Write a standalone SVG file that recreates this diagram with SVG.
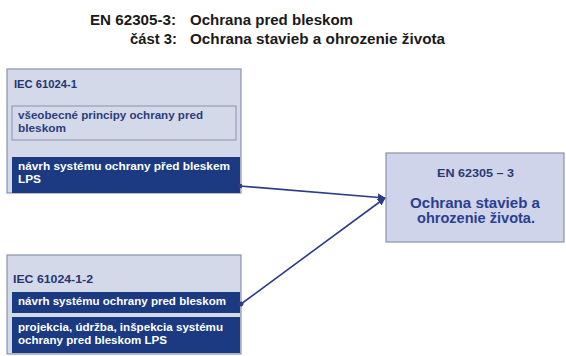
<svg xmlns="http://www.w3.org/2000/svg" width="566" height="356" viewBox="0 0 566 356">
<style>
text{font-family:"Liberation Sans",Arial,sans-serif;font-weight:bold}
.title{font-size:15px;fill:#1a1a1a}
.outer{fill:#d4d9ea;stroke:#8a92aa;stroke-width:1.2}
.inner{fill:#d4d9ea;stroke:#8a92aa;stroke-width:1}
.dark{fill:#1b3a82}
.hdr{font-size:10.5px;fill:#26346e}
.lt{font-size:11px;fill:#2c3c7c}
.wt{font-size:11px;fill:#ffffff}
.rb{fill:#cfd4ea;stroke:#8a92aa;stroke-width:1.2}
.rt1{font-size:11px;fill:#2a3878}
.rt2{font-size:14px;fill:#2c3f90}
.conn{stroke:#2e3c88;stroke-width:1.6;fill:none;marker-end:url(#arr);marker-start:url(#dot)}
</style>
<defs>
<marker id="arr" viewBox="0 0 10 10" refX="9" refY="5" markerWidth="5" markerHeight="5" orient="auto" markerUnits="strokeWidth">
<path d="M0,0 L10,5 L0,10 z" fill="#2e3c88"/>
</marker>
<marker id="dot" viewBox="0 0 10 10" refX="5" refY="5" markerWidth="3" markerHeight="3" orient="auto" markerUnits="strokeWidth">
<circle cx="5" cy="5" r="5" fill="#2e3c88"/>
</marker>
</defs>
<rect width="566" height="356" fill="#ffffff"/>
<g id="title">
<text class="title" x="90" y="25" textLength="86" lengthAdjust="spacingAndGlyphs">EN 62305-3:</text>
<text class="title" x="190" y="25" textLength="163" lengthAdjust="spacingAndGlyphs">Ochrana pred bleskom</text>
<text class="title" x="130" y="44" textLength="47" lengthAdjust="spacingAndGlyphs">část 3:</text>
<text class="title" x="190" y="44" textLength="255" lengthAdjust="spacingAndGlyphs">Ochrana stavieb a ohrozenie života</text>
</g>
<g id="iec61024-1">
<rect class="outer" x="7" y="69" width="234" height="124"/>
<text class="hdr" x="14" y="88" textLength="63" lengthAdjust="spacingAndGlyphs">IEC 61024-1</text>
<rect class="inner" x="12" y="106" width="224" height="34"/>
<text class="lt" x="18" y="119" textLength="185" lengthAdjust="spacingAndGlyphs">všeobecné principy ochrany pred</text>
<text class="lt" x="18" y="132" textLength="48" lengthAdjust="spacingAndGlyphs">bleskom</text>
<rect class="dark" x="12" y="157" width="228" height="36"/>
<text class="wt" x="18" y="170" textLength="212" lengthAdjust="spacingAndGlyphs">návrh systému ochrany před bleskem</text>
<text class="wt" x="18" y="183" textLength="23" lengthAdjust="spacingAndGlyphs">LPS</text>
</g>
<g id="iec61024-1-2">
<rect class="outer" x="7" y="255" width="234" height="99"/>
<text class="hdr" x="13" y="283" textLength="80" lengthAdjust="spacingAndGlyphs">IEC 61024-1-2</text>
<rect class="dark" x="12" y="292" width="228" height="21"/>
<text class="wt" x="18" y="305" textLength="208" lengthAdjust="spacingAndGlyphs">návrh systému ochrany pred bleskom</text>
<rect class="dark" x="12" y="317" width="228" height="36"/>
<text class="wt" x="18" y="331" textLength="205" lengthAdjust="spacingAndGlyphs">projekcia, údržba, inšpekcia systému</text>
<text class="wt" x="18" y="344" textLength="149" lengthAdjust="spacingAndGlyphs">ochrany pred bleskom LPS</text>
</g>
<g id="en62305-3">
<rect class="rb" x="386" y="153" width="178" height="89"/>
<text class="rt1" x="437" y="177" textLength="77" lengthAdjust="spacingAndGlyphs">EN 62305 – 3</text>
<text class="rt2" x="410" y="208" textLength="130" lengthAdjust="spacingAndGlyphs">Ochrana stavieb a</text>
<text class="rt2" x="417" y="223" textLength="118" lengthAdjust="spacingAndGlyphs">ohrozenie života.</text>
</g>
<g id="connectors">
<line class="conn" x1="240" y1="186" x2="385" y2="198"/>
<line class="conn" x1="241" y1="304" x2="385" y2="198"/>
</g>
</svg>
